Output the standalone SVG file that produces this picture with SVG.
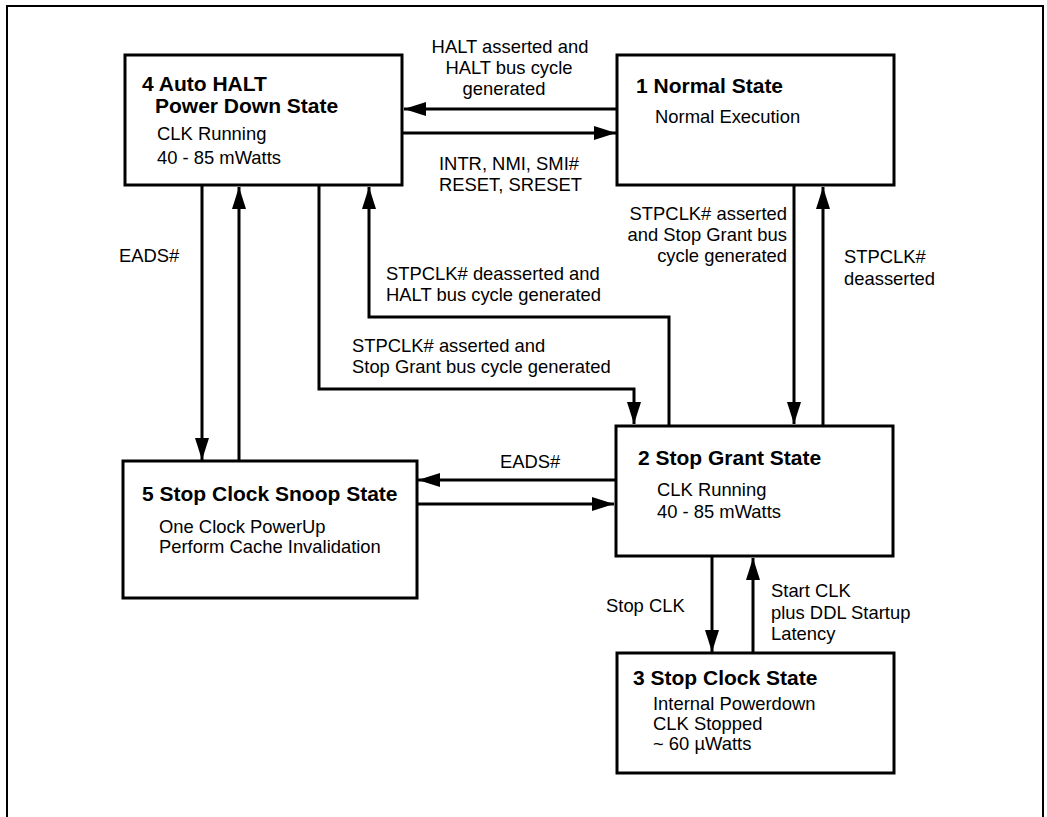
<svg xmlns="http://www.w3.org/2000/svg" width="1047" height="817" viewBox="0 0 1047 817">
<style>
.box{fill:#fff;stroke:#000;stroke-width:3}
.t{font-family:"Liberation Sans",Arial,sans-serif;font-size:21px;font-weight:bold;fill:#000}
.s{font-family:"Liberation Sans",Arial,sans-serif;font-size:18.4px;fill:#000}
.c{fill:none;stroke:#000;stroke-width:3}
</style>
<defs>
<marker id="ah" markerUnits="userSpaceOnUse" markerWidth="22" markerHeight="14" refX="22" refY="7" orient="auto">
<path d="M0,0 L22,7 L0,14 z" fill="#000"/>
</marker>
</defs>
<rect width="1047" height="817" fill="#fff"/>
<path d="M7,822 V6 H1043 V822" fill="none" stroke="#000" stroke-width="2"/>

<g id="connectors">
<line class="c" x1="617" y1="109" x2="404" y2="109" marker-end="url(#ah)"/>
<line class="c" x1="402" y1="133" x2="616" y2="133" marker-end="url(#ah)"/>
<line class="c" x1="202" y1="185" x2="202" y2="460" marker-end="url(#ah)"/>
<line class="c" x1="239" y1="461" x2="239" y2="187" marker-end="url(#ah)"/>
<path class="c" d="M319,185 V389 H634 V424" marker-end="url(#ah)"/>
<path class="c" d="M669,426 V317 H369 V187" marker-end="url(#ah)"/>
<line class="c" x1="794" y1="185" x2="794" y2="424" marker-end="url(#ah)"/>
<line class="c" x1="823" y1="426" x2="823" y2="187" marker-end="url(#ah)"/>
<line class="c" x1="616" y1="480" x2="418" y2="480" marker-end="url(#ah)"/>
<line class="c" x1="417" y1="504" x2="614" y2="504" marker-end="url(#ah)"/>
<line class="c" x1="712" y1="556" x2="712" y2="652" marker-end="url(#ah)"/>
<line class="c" x1="753" y1="653" x2="753" y2="558" marker-end="url(#ah)"/>
<g class="s">
<text x="510" y="53" text-anchor="middle">HALT asserted and</text>
<text x="509" y="74" text-anchor="middle">HALT bus cycle</text>
<text x="504" y="95" text-anchor="middle">generated</text>
<text x="439" y="170">INTR, NMI, SMI#</text>
<text x="439" y="191">RESET, SRESET</text>
<text x="119" y="262">EADS#</text>
<text x="386" y="280">STPCLK# deasserted and</text>
<text x="386" y="301">HALT bus cycle generated</text>
<text x="352" y="352">STPCLK# asserted and</text>
<text x="352" y="373">Stop Grant bus cycle generated</text>
<text x="787" y="220" text-anchor="end">STPCLK# asserted</text>
<text x="787" y="241" text-anchor="end">and Stop Grant bus</text>
<text x="787" y="262" text-anchor="end">cycle generated</text>
<text x="844" y="263">STPCLK#</text>
<text x="844" y="285">deasserted</text>
<text x="500" y="468">EADS#</text>
<text x="606" y="612">Stop CLK</text>
<text x="771" y="597">Start CLK</text>
<text x="771" y="619">plus DDL Startup</text>
<text x="771" y="640">Latency</text>
</g>
</g>

<g id="node4">
<rect class="box" x="125" y="55" width="277" height="130"/>
<text class="t" x="142" y="91">4 Auto HALT</text>
<text class="t" x="155" y="113">Power Down State</text>
<text class="s" x="157" y="140">CLK Running</text>
<text class="s" x="157" y="164">40 - 85 mWatts</text>
</g>
<g id="node1">
<rect class="box" x="617" y="55" width="277" height="130"/>
<text class="t" x="636" y="93">1 Normal State</text>
<text class="s" x="655" y="123">Normal Execution</text>
</g>
<g id="node5">
<rect class="box" x="123" y="461" width="294" height="137"/>
<text class="t" x="142" y="501">5 Stop Clock Snoop State</text>
<text class="s" x="159" y="533">One Clock PowerUp</text>
<text class="s" x="159" y="553">Perform Cache Invalidation</text>
</g>
<g id="node2">
<rect class="box" x="616" y="426" width="277" height="130"/>
<text class="t" x="638" y="465">2 Stop Grant State</text>
<text class="s" x="657" y="496">CLK Running</text>
<text class="s" x="657" y="518">40 - 85 mWatts</text>
</g>
<g id="node3">
<rect class="box" x="617" y="653" width="277" height="120"/>
<text class="t" x="633" y="685">3 Stop Clock State</text>
<text class="s" x="653" y="710">Internal Powerdown</text>
<text class="s" x="653" y="730">CLK Stopped</text>
<text class="s" x="653" y="750">~ 60 µWatts</text>
</g>
</svg>
